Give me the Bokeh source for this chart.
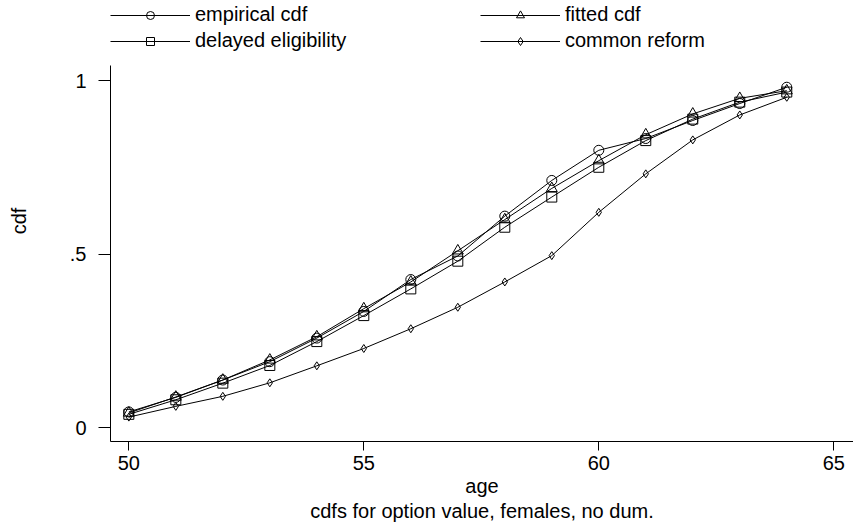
from bokeh.plotting import figure
from bokeh.models import Range1d, FixedTicker, Legend, LegendItem, Title
from bokeh.embed import file_html
from bokeh.resources import INLINE

ages = [50, 51, 52, 53, 54, 55, 56, 57, 58, 59, 60, 61, 62, 63, 64]
empirical = [0.045, 0.087, 0.137, 0.19, 0.258, 0.335, 0.427, 0.495, 0.61, 0.713, 0.80, 0.834, 0.886, 0.935, 0.982]
fitted = [0.042, 0.088, 0.137, 0.195, 0.262, 0.343, 0.42, 0.51, 0.60, 0.69, 0.77, 0.845, 0.905, 0.95, 0.972]
delayed = [0.038, 0.08, 0.128, 0.179, 0.248, 0.323, 0.40, 0.48, 0.578, 0.665, 0.751, 0.828, 0.89, 0.939, 0.968]
common = [0.03, 0.061, 0.09, 0.129, 0.178, 0.228, 0.285, 0.347, 0.42, 0.496, 0.621, 0.732, 0.83, 0.902, 0.953]

x_ticks = [50, 55, 60, 65]
y_ticks = [0, 0.5, 1]
y_tick_labels = {0: "0", 0.5: ".5", 1: "1"}

FONT = "Liberation Sans"
FS = "20px"

Y0, Y1 = -0.0404, 1.0447
p = figure(width=853, height=528, output_backend="svg", toolbar_location=None,
           x_range=Range1d(49.61, 65.42), y_range=Range1d(Y0, 1.2323),
           min_border_left=110, min_border_right=0, min_border_top=0, min_border_bottom=87)
p.outline_line_color = None
p.grid.visible = False
p.background_fill_color = "white"
p.border_fill_color = "white"

series = [
    ("empirical cdf", empirical, "circle", 10),
    ("fitted cdf", fitted, "triangle", 11),
    ("delayed eligibility", delayed, "square", 10),
    ("common reform", common, "diamond", 8),
]
items = {}
for name, ys, marker, size in series:
    l = p.line(ages, ys, line_color="black", line_width=1)
    s = p.scatter(ages, ys, marker=marker, size=size, line_color="black",
                  fill_color=None, line_width=1)
    items[name] = LegendItem(label=name, renderers=[l, s])

legend = Legend(items=[items["empirical cdf"], items["delayed eligibility"],
                       items["fitted cdf"], items["common reform"]],
                ncols=2, orientation="vertical",
                location=(0, 389), glyph_width=80, glyph_height=20,
                label_standoff=5, label_width=282, spacing=3, padding=0, margin=0,
                border_line_color=None, background_fill_alpha=0,
                label_text_font=FONT, label_text_font_size=FS, label_height=20,
                label_text_color="black")
p.add_layout(legend, "center")

xa = p.xaxis[0]
xa.ticker = FixedTicker(ticks=x_ticks)
xa.axis_label = None
xa.major_label_text_font = FONT
xa.major_label_text_font_size = FS
xa.major_label_text_color = "black"
xa.major_label_standoff = 5
xa.major_tick_out = 9
xa.major_tick_in = 0
xa.minor_tick_out = 0
xa.minor_tick_in = 0
xa.axis_line_color = "black"
xa.major_tick_line_color = "black"

ya = p.yaxis[0]
ya.bounds = (Y0, Y1)
ya.ticker = FixedTicker(ticks=y_ticks)
ya.major_label_overrides = y_tick_labels
ya.major_label_orientation = "horizontal"
ya.axis_label = "cdf"
ya.axis_label_text_font = FONT
ya.axis_label_text_font_size = FS
ya.axis_label_text_font_style = "normal"
ya.axis_label_text_color = "black"
ya.axis_label_standoff = 37
ya.major_label_text_font = FONT
ya.major_label_text_font_size = FS
ya.major_label_text_color = "black"
ya.major_label_standoff = 12
ya.major_tick_out = 12
ya.major_tick_in = 0
ya.minor_tick_out = 0
ya.minor_tick_in = 0
ya.axis_line_color = "black"
ya.major_tick_line_color = "black"

t1 = Title(text="age", align="center", offset=-6, text_font=FONT, text_font_size=FS,
           text_font_style="normal", standoff=0, text_color="black")
t2 = Title(text="cdfs for option value, females, no dum.", align="center", offset=-6,
           text_font=FONT, text_font_size=FS, text_font_style="normal", standoff=3,
           text_color="black")
p.add_layout(t1, "below")
p.add_layout(t2, "below")

open("out.html", "w").write(file_html(p, INLINE))
